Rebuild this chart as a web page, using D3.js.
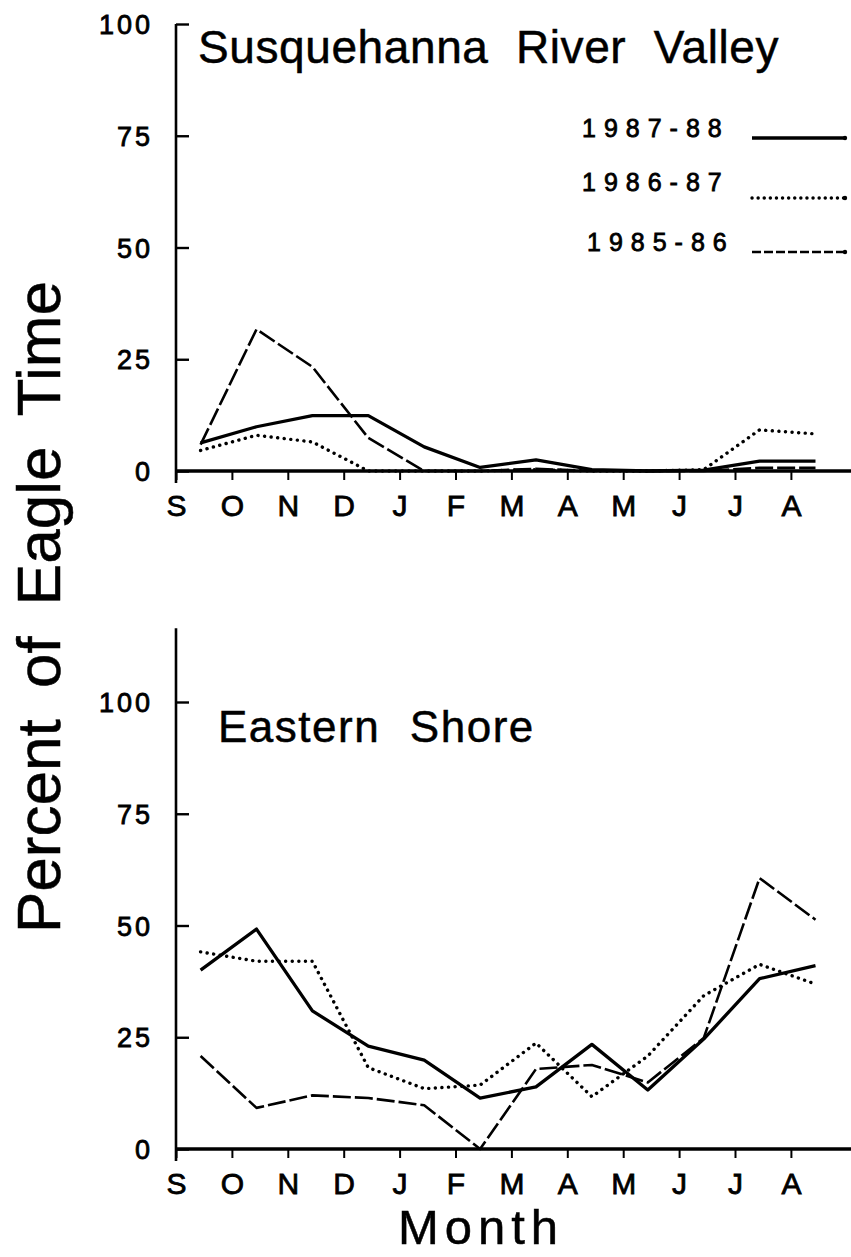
<!DOCTYPE html>
<html>
<head>
<meta charset="utf-8">
<script src="https://cdn.jsdelivr.net/npm/d3@7"></script>
<style>
  body { margin: 0; background: #fff; }
  svg text { font-family: "Liberation Sans", Arial, Helvetica, sans-serif; fill: #000; stroke: #000; stroke-width: 0.5px; }
  svg .tick text, svg .legend text { stroke-width: 0.8px; }
</style>
</head>
<body>
<svg id="chart" width="851" height="1257"></svg>
<script>
// months, Sept -> Aug
var months = ["S", "O", "N", "D", "J", "F", "M", "A", "M", "J", "J", "A"];
var seasons = ["1987-88", "1986-87", "1985-86"];
var yTicks = [0, 25, 50, 75, 100];

// percent of eagle time, Susquehanna River Valley
var susq8788 = [6.3, 9.9, 12.4, 12.4, 5.4, 0.8, 2.5, 0.3, 0, 0.2, 2.2, 2.2];
var susq8687 = [4.6, 8.0, 6.5, 0, 0, 0, 0.3, 0, 0, 0.3, 9.2, 8.3];
var susq8586 = [5.9, 31.7, 23.3, 7.4, 0, 0, 0.5, 0, 0, 0, 0.7, 0.7];

// percent of eagle time, Eastern Shore
var east8788 = [40.0, 49.2, 30.9, 23.0, 19.9, 11.4, 13.9, 23.4, 13.2, 24.6, 38.1, 41.0];
var east8687 = [44.1, 42.0, 42.0, 18.2, 13.5, 14.3, 23.7, 11.7, 20.8, 34.3, 41.3, 36.9];
var east8586 = [20.8, 9.2, 12.0, 11.4, 9.8, 0, 17.9, 18.8, 14.9, 24.8, 60.6, 51.3];

var lineStyles = {
  "1987-88": { width: 3.3, dash: null, cap: "butt" },
  "1986-87": { width: 3.4, dash: "0.1,6.5", cap: "round" },
  "1985-86": { width: 2.6, dash: "18,4", cap: "butt" }
};

var svg = d3.select("#chart");

var x = d3.scaleLinear().domain([0, 12]).range([176, 176 + 12 * 55.9]);

var panels = [
  { title: "Susquehanna River Valley", titleX: 198, titleY: 63, titleSize: 46, titleLs: 0.6, titleWs: 14,
    y: d3.scaleLinear().domain([0, 100]).range([471, 24]), top: 100,
    series: [susq8788, susq8687, susq8586] },
  { title: "Eastern Shore", titleX: 218, titleY: 742, titleSize: 44, titleLs: 1.5, titleWs: 16,
    y: d3.scaleLinear().domain([0, 100]).range([1149, 702]), top: 116.5,
    series: [east8788, east8687, east8586] }
];

panels.forEach(function(p) {
  var g = svg.append("g");
  var y = p.y;

  // y axis: ticks pointing inward, labels left
  var yAxis = d3.axisLeft(y).tickValues(yTicks).tickSizeInner(-13).tickSizeOuter(0).tickPadding(23);
  var ya = g.append("g").attr("transform", "translate(" + x(0) + ",0)").call(yAxis);
  ya.select(".domain").remove();
  ya.selectAll(".tick line").attr("stroke", "#000").attr("stroke-width", 2.4);
  ya.selectAll(".tick text")
    .style("font-size", "27px").style("letter-spacing", "3px")
    .attr("dy", "0.36em");

  g.append("line")
    .attr("x1", x(0)).attr("x2", x(0))
    .attr("y1", y(p.top)).attr("y2", y(0) + 12)
    .attr("stroke", "#000").attr("stroke-width", 2.6);

  // x axis
  var xAxis = d3.axisBottom(x).tickValues(d3.range(12))
    .tickFormat(function(i) { return months[i]; })
    .tickSizeInner(9).tickSizeOuter(0).tickPadding(15);
  var xa = g.append("g").attr("transform", "translate(0," + y(0) + ")").call(xAxis);
  xa.select(".domain").remove();
  xa.selectAll(".tick line").attr("stroke", "#000").attr("stroke-width", 2);
  xa.selectAll(".tick text").style("font-size", "30px");

  g.append("line")
    .attr("x1", x(0)).attr("x2", 851)
    .attr("y1", y(0)).attr("y2", y(0))
    .attr("stroke", "#000").attr("stroke-width", 3.5);

  // lines
  var line = d3.line()
    .x(function(d, i) { return x(i + 0.44); })
    .y(function(d) { return y(d); });

  p.series.forEach(function(s, k) {
    var st = lineStyles[seasons[k]];
    g.append("path")
      .datum(s)
      .attr("d", line)
      .attr("fill", "none")
      .attr("stroke", "#000")
      .attr("stroke-width", st.width)
      .attr("stroke-linejoin", "round")
      .attr("stroke-linecap", st.cap)
      .attr("stroke-dasharray", st.dash);
  });

  g.append("text")
    .attr("x", p.titleX).attr("y", p.titleY)
    .style("font-size", p.titleSize + "px")
    .style("letter-spacing", p.titleLs + "px")
    .style("word-spacing", p.titleWs + "px")
    .text(p.title);
});

// legend
var legY = d3.scalePoint().domain(seasons).range([138, 252]);
var leg = svg.append("g").attr("class", "legend");
seasons.forEach(function(s, k) {
  var st = lineStyles[s];
  var yy = legY(s);
  var ly = yy + (k == 1 ? 3 : 0);
  leg.append("text")
    .attr("x", k == 2 ? 587 : 582).attr("y", yy - (k == 1 ? 4 : 1))
    .style("font-size", "25px").style("letter-spacing", "8px")
    .text(s);
  leg.append("line")
    .attr("x1", 752).attr("x2", 846)
    .attr("y1", ly).attr("y2", ly)
    .attr("stroke", "#000")
    .attr("stroke-width", st.width)
    .attr("stroke-linecap", st.cap)
    .attr("stroke-dasharray", st.dash == null ? null : (k == 1 ? "0.1,6" : "9,3"));
  leg.append("circle").attr("cx", 845).attr("cy", ly).attr("r", 2.2).attr("fill", "#000");
});

// axis titles
svg.append("text")
  .attr("transform", "translate(60,607) rotate(-90)")
  .attr("text-anchor", "middle")
  .style("font-size", "62px")
  .style("word-spacing", "14px")
  .text("Percent of Eagle Time");

svg.append("text")
  .attr("x", 481).attr("y", 1244)
  .attr("text-anchor", "middle")
  .style("font-size", "49px").style("letter-spacing", "6px")
  .text("Month");
</script>
</body>
</html>
